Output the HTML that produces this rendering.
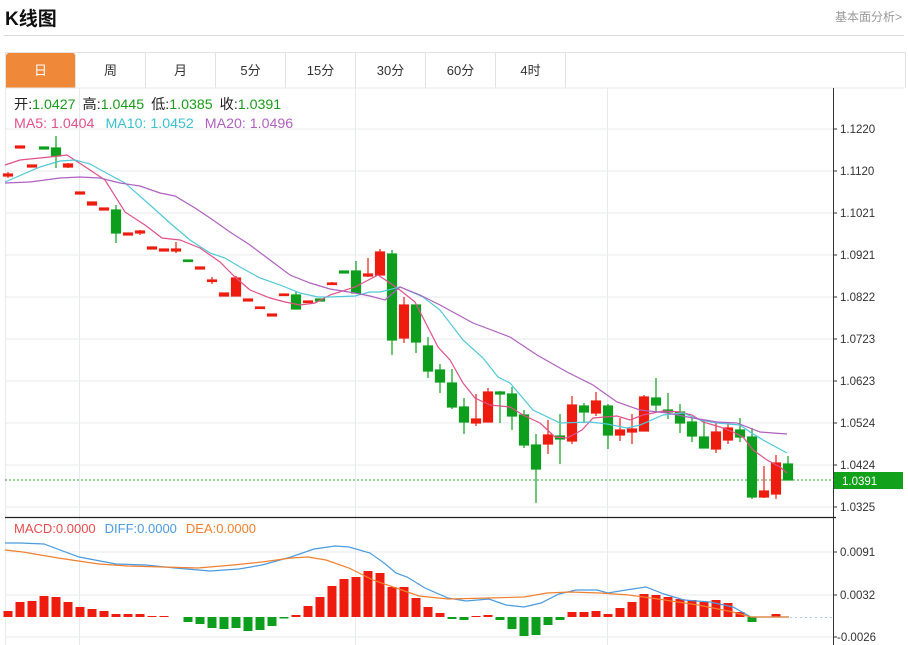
<!DOCTYPE html>
<html><head><meta charset="utf-8"><style>
body{margin:0;width:908px;height:645px;background:#fff;overflow:hidden;font-family:"Liberation Sans","Noto Sans CJK SC",sans-serif;position:relative}
.t{position:absolute;left:5px;top:4px;font-size:19px;font-weight:bold;color:#111}
.r{position:absolute;right:6px;top:8px;font-size:12px;color:#999}
.hl{position:absolute;left:4px;top:35px;width:900px;height:1px;background:#d8d8d8}
.tabs{position:absolute;left:5px;top:52px;width:899px;height:35px;border:1px solid #e2e2e2;border-bottom:none}
.tab{position:absolute;top:0;height:35px;width:70px;border-right:1px solid #e2e2e2;text-align:center;line-height:35px;font-size:13px;color:#333;box-sizing:border-box}
svg{position:absolute;left:0;top:0}
</style></head><body>
<div class="t">K线图</div><div class="r">基本面分析&gt;</div><div class="hl"></div>
<div class="tabs">
<div class="tab" style="left:0;background:#f0883a;color:#fff;border-radius:3px 3px 0 0">日</div>
<div class="tab" style="left:70px">周</div><div class="tab" style="left:140px">月</div>
<div class="tab" style="left:210px">5分</div><div class="tab" style="left:280px">15分</div>
<div class="tab" style="left:350px">30分</div><div class="tab" style="left:420px">60分</div>
<div class="tab" style="left:490px">4时</div></div>
<svg width="908" height="645" font-family="Liberation Sans, Noto Sans CJK SC, sans-serif">
<g stroke="#e6e9ee" stroke-width="1">
<line x1="5" y1="88" x2="904" y2="88"/><line x1="5.5" y1="88" x2="5.5" y2="645"/>
<line x1="5" y1="129" x2="833" y2="129"/><line x1="5" y1="171" x2="833" y2="171"/><line x1="5" y1="213" x2="833" y2="213"/><line x1="5" y1="255" x2="833" y2="255"/><line x1="5" y1="297" x2="833" y2="297"/><line x1="5" y1="339" x2="833" y2="339"/><line x1="5" y1="381" x2="833" y2="381"/><line x1="5" y1="423" x2="833" y2="423"/><line x1="5" y1="465" x2="833" y2="465"/><line x1="5" y1="507" x2="833" y2="507"/>
<line x1="5" y1="552" x2="833" y2="552"/><line x1="5" y1="595" x2="833" y2="595"/><line x1="5" y1="637" x2="833" y2="637"/>
<line x1="79.5" y1="88" x2="79.5" y2="645"/><line x1="355.5" y1="88" x2="355.5" y2="645"/><line x1="607.5" y1="88" x2="607.5" y2="645"/>
</g>
<line x1="833.5" y1="88" x2="833.5" y2="645" stroke="#333"/>
<line x1="5" y1="517.5" x2="836" y2="517.5" stroke="#222" stroke-width="1.2"/>
<g stroke="#333"><line x1="833" y1="129" x2="837" y2="129"/><line x1="833" y1="171" x2="837" y2="171"/><line x1="833" y1="213" x2="837" y2="213"/><line x1="833" y1="255" x2="837" y2="255"/><line x1="833" y1="297" x2="837" y2="297"/><line x1="833" y1="339" x2="837" y2="339"/><line x1="833" y1="381" x2="837" y2="381"/><line x1="833" y1="423" x2="837" y2="423"/><line x1="833" y1="465" x2="837" y2="465"/><line x1="833" y1="507" x2="837" y2="507"/><line x1="833" y1="552" x2="837" y2="552"/><line x1="833" y1="595" x2="837" y2="595"/><line x1="833" y1="637" x2="837" y2="637"/></g>
<g font-size="11.5" fill="#333">
<text x="840" y="133">1.1220</text><text x="840" y="175">1.1120</text><text x="840" y="217">1.1021</text><text x="840" y="259">1.0921</text><text x="840" y="301">1.0822</text><text x="840" y="343">1.0723</text><text x="840" y="385">1.0623</text><text x="840" y="427">1.0524</text><text x="840" y="469">1.0424</text><text x="840" y="511">1.0325</text>
<text x="840" y="556">0.0091</text><text x="840" y="599">0.0032</text><text x="837" y="641">-0.0026</text></g>
<line x1="5" y1="480" x2="834" y2="480" stroke="#2aa52a" stroke-dasharray="2,2"/>
<rect x="834" y="472" width="69" height="17" fill="#11a11a"/><text x="842" y="485" font-size="11.5" fill="#fff">1.0391</text>
<g font-size="14.2">
<text x="14" y="109"><tspan fill="#222">开:</tspan><tspan fill="#1a9a1a">1.0427</tspan><tspan fill="#222" dx="7">高:</tspan><tspan fill="#1a9a1a">1.0445</tspan><tspan fill="#222" dx="7">低:</tspan><tspan fill="#1a9a1a">1.0385</tspan><tspan fill="#222" dx="7">收:</tspan><tspan fill="#1a9a1a">1.0391</tspan></text>
<text x="14" y="128"><tspan fill="#e0508a">MA5: 1.0404</tspan><tspan fill="#3cc0cc" dx="11">MA10: 1.0452</tspan><tspan fill="#b060c0" dx="11">MA20: 1.0496</tspan></text>
</g>
<g font-size="13"><text x="14" y="533"><tspan fill="#e84c4c">MACD:0.0000</tspan><tspan fill="#4a9be0" dx="9">DIFF:0.0000</tspan><tspan fill="#f08030" dx="9">DEA:0.0000</tspan></text></g>
<g id="c" stroke-width="1.2">
<g stroke="#ee1c0f" fill="#ee1c0f">
<line x1="8" y1="172" x2="8" y2="178"/><rect x="3.5" y="174" width="9" height="2"/>
<rect x="15.5" y="146" width="9" height="2"/>
<rect x="27.5" y="165" width="9" height="2"/>
<line x1="68" y1="163" x2="68" y2="168"/><rect x="63.5" y="164" width="9" height="3"/>
<rect x="75.5" y="192" width="9" height="2"/><rect x="87.5" y="202" width="9" height="3"/><rect x="99.5" y="208" width="9" height="2"/>
<rect x="123.5" y="233" width="9" height="2"/><line x1="140" y1="230" x2="140" y2="235"/><rect x="135.5" y="231" width="9" height="2"/>
<rect x="147.5" y="247" width="9" height="2"/><rect x="159.5" y="249" width="9" height="2"/><line x1="176" y1="242" x2="176" y2="253"/><rect x="171.5" y="249" width="9" height="2"/>
<rect x="195.5" y="267" width="9" height="2"/><line x1="212" y1="277" x2="212" y2="284"/><rect x="207.5" y="280" width="9" height="1.5"/>
<rect x="219.5" y="293" width="9" height="3"/><line x1="236" y1="276" x2="236" y2="296"/><rect x="231.5" y="278" width="9" height="18"/>
<rect x="243.5" y="299" width="9" height="2"/><rect x="255.5" y="307" width="9" height="1.5"/><rect x="267.5" y="314" width="9" height="2"/><rect x="279.5" y="294" width="9" height="1.5"/>
<rect x="303.5" y="301" width="9" height="1.5"/><line x1="332" y1="282" x2="332" y2="285"/><rect x="327.5" y="283" width="9" height="1.5"/>
<line x1="368" y1="258" x2="368" y2="277"/><rect x="363.5" y="274" width="9" height="2"/>
<line x1="380" y1="249" x2="380" y2="275"/><rect x="375.5" y="252" width="9" height="23"/>
<line x1="404" y1="297" x2="404" y2="343"/><rect x="399.5" y="305" width="9" height="33"/>
<line x1="476" y1="394" x2="476" y2="426"/><rect x="471.5" y="419" width="9" height="4"/>
<line x1="488" y1="388" x2="488" y2="422"/><rect x="483.5" y="392" width="9" height="30"/>
<line x1="548" y1="420" x2="548" y2="454"/><rect x="543.5" y="435" width="9" height="9"/>
<line x1="572" y1="396" x2="572" y2="444"/><rect x="567.5" y="405" width="9" height="36"/>
<line x1="596" y1="392" x2="596" y2="416"/><rect x="591.5" y="401" width="9" height="12"/>
<line x1="620" y1="418" x2="620" y2="441"/><rect x="615.5" y="430" width="9" height="5"/>
<line x1="632" y1="414" x2="632" y2="444"/><rect x="627.5" y="429" width="9" height="3"/>
<line x1="644" y1="395" x2="644" y2="431"/><rect x="639.5" y="397" width="9" height="34"/>
<line x1="716" y1="423" x2="716" y2="453"/><rect x="711.5" y="432" width="9" height="17"/>
<line x1="728" y1="423" x2="728" y2="444"/><rect x="723.5" y="428" width="9" height="12"/>
<line x1="764" y1="466" x2="764" y2="498"/><rect x="759.5" y="491" width="9" height="6"/>
<line x1="776" y1="455" x2="776" y2="499"/><rect x="771.5" y="463" width="9" height="31"/>
</g>
<g stroke="#0c9e1c" fill="#0c9e1c">
<rect x="39.5" y="147" width="9" height="2"/>
<line x1="56" y1="136" x2="56" y2="168"/><rect x="51.5" y="148" width="9" height="8"/>
<line x1="116" y1="205" x2="116" y2="243"/><rect x="111.5" y="210" width="9" height="23"/>
<rect x="183.5" y="260" width="9" height="1.5"/>
<line x1="296" y1="291" x2="296" y2="309"/><rect x="291.5" y="295" width="9" height="14"/>
<rect x="315.5" y="299" width="9" height="2"/><rect x="339.5" y="271" width="9" height="2"/>
<line x1="356" y1="261" x2="356" y2="293"/><rect x="351.5" y="271" width="9" height="22"/>
<line x1="392" y1="250" x2="392" y2="355"/><rect x="387.5" y="254" width="9" height="86"/>
<line x1="416" y1="305" x2="416" y2="353"/><rect x="411.5" y="305" width="9" height="37"/>
<line x1="428" y1="337" x2="428" y2="378"/><rect x="423.5" y="346" width="9" height="25"/>
<line x1="440" y1="364" x2="440" y2="393"/><rect x="435.5" y="370" width="9" height="12"/>
<line x1="452" y1="369" x2="452" y2="409"/><rect x="447.5" y="383" width="9" height="24"/>
<line x1="464" y1="398" x2="464" y2="434"/><rect x="459.5" y="407" width="9" height="15"/>
<line x1="500" y1="391" x2="500" y2="423"/><rect x="495.5" y="392" width="9" height="2"/>
<line x1="512" y1="387" x2="512" y2="430"/><rect x="507.5" y="394" width="9" height="22"/>
<line x1="524" y1="410" x2="524" y2="448"/><rect x="519.5" y="415" width="9" height="30"/>
<line x1="536" y1="434" x2="536" y2="503"/><rect x="531.5" y="445" width="9" height="24"/>
<line x1="560" y1="414" x2="560" y2="464"/><rect x="555.5" y="436" width="9" height="3"/>
<line x1="584" y1="403" x2="584" y2="423"/><rect x="579.5" y="406" width="9" height="6"/>
<line x1="608" y1="404" x2="608" y2="449"/><rect x="603.5" y="406" width="9" height="29"/>
<line x1="656" y1="378" x2="656" y2="413"/><rect x="651.5" y="398" width="9" height="7"/>
<line x1="668" y1="393" x2="668" y2="419"/><rect x="663.5" y="410" width="9" height="2"/>
<line x1="680" y1="404" x2="680" y2="433"/><rect x="675.5" y="412" width="9" height="11"/>
<line x1="692" y1="417" x2="692" y2="442"/><rect x="687.5" y="422" width="9" height="14"/>
<line x1="704" y1="420" x2="704" y2="448"/><rect x="699.5" y="437" width="9" height="11"/>
<line x1="740" y1="418" x2="740" y2="442"/><rect x="735.5" y="430" width="9" height="7"/>
<line x1="752" y1="428" x2="752" y2="499"/><rect x="747.5" y="437" width="9" height="60"/>
<line x1="788" y1="456" x2="788" y2="480"/><rect x="783.5" y="464" width="9" height="16"/>
</g></g>
<g fill="none" stroke-width="1.2">
<polyline stroke="#e0508a" points="5,165 20,160 50,157 67,155 90,170 105,180 125,212 145,225 162,238 180,240 200,248 220,262 235,277 250,290 270,298 285,302 300,305 315,303 330,295 355,287 378,275 390,283 400,290 415,302 438,347 450,360 463,383 475,398 490,405 510,407 523,415 540,423 555,437 567,438 582,430 593,418 617,416 630,420 643,415 663,411 680,412 692,415 703,422 720,427 733,432 743,437 753,450 767,460 780,467 787,473"/>
<polyline stroke="#4fc8d8" points="5,182 40,167 60,161 75,160 90,164 110,175 125,183 150,205 170,223 190,240 210,253 225,258 240,267 260,278 280,285 300,293 318,297 330,297 355,296 370,292 380,292 400,287 423,297 440,310 463,340 483,358 498,377 510,383 533,410 560,423 590,422 607,424 627,428 640,425 663,415 683,413 700,420 717,423 740,425 750,432 763,440 787,453"/>
<polyline stroke="#b060c0" points="5,183 30,182 60,178 80,177 100,178 120,183 140,186 160,193 175,196 195,208 210,218 230,232 250,245 270,260 290,275 310,283 330,289 355,293 370,296 385,300 400,287 420,295 440,305 473,323 510,337 537,355 567,372 593,385 617,402 640,410 667,413 693,418 717,422 737,423 760,432 773,433 787,434"/>
</g>
<g fill="#ee1c0f">
<rect x="3.5" y="611" width="9" height="6"/><rect x="15.5" y="602" width="9" height="15"/><rect x="27.5" y="601" width="9" height="16"/><rect x="39.5" y="596" width="9" height="21"/><rect x="51.5" y="597" width="9" height="20"/><rect x="63.5" y="602" width="9" height="15"/><rect x="75.5" y="607" width="9" height="10"/><rect x="87.5" y="609" width="9" height="8"/><rect x="99.5" y="611" width="9" height="6"/><rect x="111.5" y="614" width="9" height="3"/><rect x="123.5" y="614" width="9" height="3"/><rect x="135.5" y="614" width="9" height="3"/><rect x="147.5" y="616" width="9" height="1"/><rect x="159.5" y="616" width="9" height="1"/>
<rect x="291.5" y="615" width="9" height="2"/><rect x="303.5" y="606" width="9" height="11"/><rect x="315.5" y="597" width="9" height="20"/><rect x="327.5" y="586" width="9" height="31"/><rect x="339.5" y="579" width="9" height="38"/><rect x="351.5" y="577" width="9" height="40"/><rect x="363.5" y="571" width="9" height="46"/><rect x="375.5" y="573" width="9" height="44"/><rect x="387.5" y="587" width="9" height="30"/><rect x="399.5" y="587" width="9" height="30"/><rect x="411.5" y="598" width="9" height="19"/><rect x="423.5" y="607" width="9" height="10"/><rect x="435.5" y="613" width="9" height="4"/>
<rect x="471.5" y="616" width="9" height="1"/><rect x="483.5" y="615" width="9" height="2"/>
<rect x="567.5" y="612" width="9" height="5"/><rect x="579.5" y="612" width="9" height="5"/><rect x="591.5" y="611" width="9" height="6"/><rect x="603.5" y="614" width="9" height="3"/><rect x="615.5" y="608" width="9" height="9"/><rect x="627.5" y="602" width="9" height="15"/><rect x="639.5" y="594" width="9" height="23"/><rect x="651.5" y="595" width="9" height="22"/><rect x="663.5" y="597" width="9" height="20"/><rect x="675.5" y="599" width="9" height="18"/><rect x="687.5" y="600" width="9" height="17"/><rect x="699.5" y="602" width="9" height="15"/><rect x="711.5" y="600" width="9" height="17"/><rect x="723.5" y="603" width="9" height="14"/><rect x="735.5" y="612" width="9" height="5"/><rect x="771.5" y="614" width="9" height="3"/>
</g>
<g fill="#0c9e1c">
<rect x="183.5" y="617" width="9" height="5"/><rect x="195.5" y="617" width="9" height="7"/><rect x="207.5" y="617" width="9" height="11"/><rect x="219.5" y="617" width="9" height="12"/><rect x="231.5" y="617" width="9" height="11"/><rect x="243.5" y="617" width="9" height="14"/><rect x="255.5" y="617" width="9" height="13"/><rect x="267.5" y="617" width="9" height="9"/><rect x="279.5" y="617" width="9" height="1.5"/>
<rect x="447.5" y="617" width="9" height="2"/><rect x="459.5" y="617" width="9" height="3"/><rect x="495.5" y="617" width="9" height="3"/><rect x="507.5" y="617" width="9" height="12"/><rect x="519.5" y="617" width="9" height="19"/><rect x="531.5" y="617" width="9" height="18"/><rect x="543.5" y="617" width="9" height="8"/><rect x="555.5" y="617" width="9" height="3"/><rect x="747.5" y="617" width="9" height="5"/>
</g>
<line x1="790" y1="617.5" x2="833" y2="617.5" stroke="#a8cce8" stroke-dasharray="2,3"/>
<g fill="none" stroke-width="1.2">
<polyline stroke="#4a9be0" points="5,543 20,543 44,544 79,557 116,564 146,565 175,568 210,571 239,569 262,565 291,557 314,549 335,546 349,547 370,553 384,563 396,573 407,577 425,588 448,598 466,601 489,599 506,605 524,607 541,603 559,594 576,590 597,590 608,593 626,590 646,587 664,594 684,600 710,602 733,607 751,617 768,617 789,617"/>
<polyline stroke="#f08030" points="5,550 23,552 58,558 99,564 128,566 163,567 198,568 233,565 262,562 291,558 308,557 326,560 349,568 373,580 396,588 419,596 448,599 489,598 524,597 547,593 570,592 600,593 629,595 658,599 698,605 733,612 751,617 789,617"/>
</g>
</svg>
</body></html>
